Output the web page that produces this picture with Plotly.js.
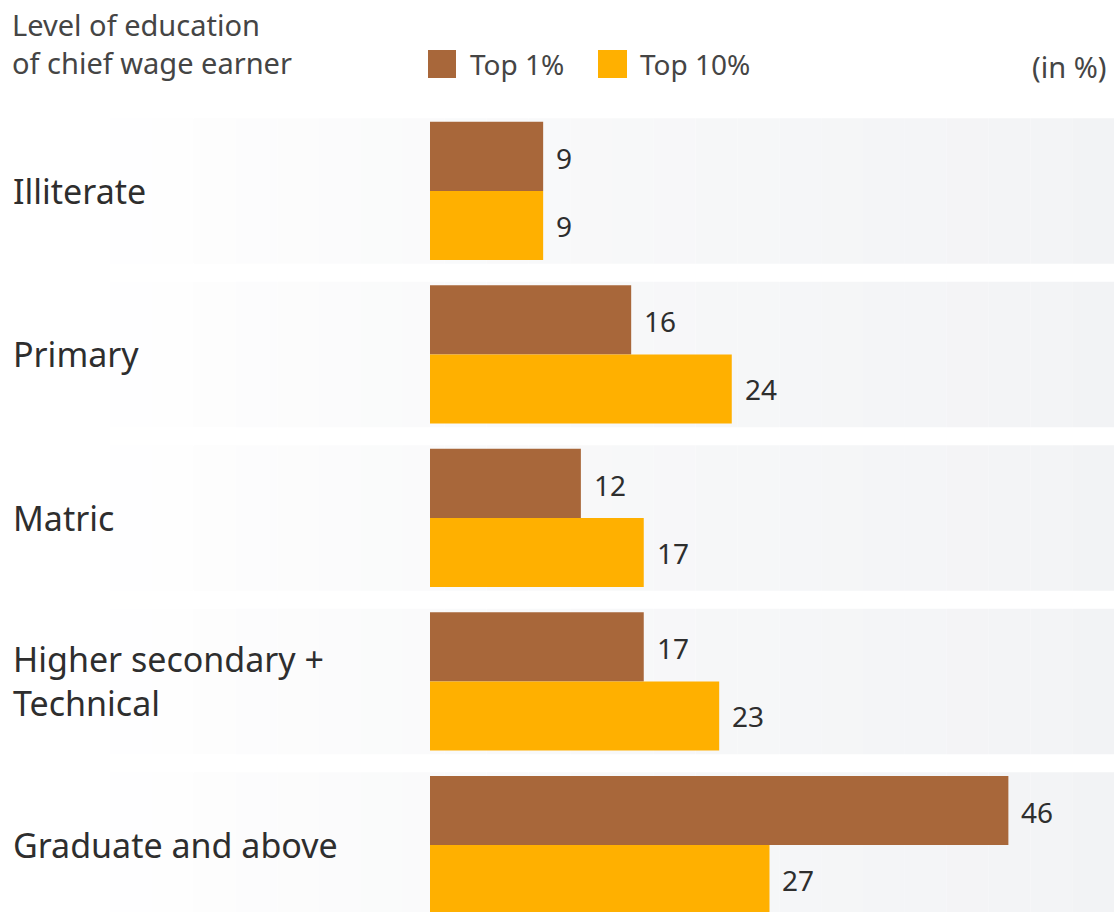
<!DOCTYPE html>
<html>
<head>
<meta charset="utf-8">
<script src="https://cdn.plot.ly/plotly-3.0.1.min.js"></script>
<style>
html,body{margin:0;padding:0;background:#fff;}
#chart{width:1114px;height:912px;}
</style>
</head>
<body>
<div id="chart"></div>
<script>
// ---- data ----
const categories = ["Illiterate", "Primary", "Matric", "Higher secondary +<br>Technical", "Graduate and above"];
const seriesNames = ["Top 1%", "Top 10%"];
const top1 = [9, 16, 12, 17, 46];
const top10 = [9, 24, 17, 23, 27];
const headerText = "Level of education<br>of chief wage earner";
const unitText = "(in %)";

// ---- styles ----
const colors = ["#A8673A", "#FFB000"];
const FONT = "Noto Sans, Open Sans, sans-serif";
const txtColor = "#2e2e2e";
const hdrColor = "#454545";

const PW = 684, PH = 802; // plot width/height in px (margins l=430,t=110)
const px2x = p => (p - 430) / PW;
const py2y = p => (912 - p) / PH;

const traces = [top1, top10].map((vals, k) => ({
  type: "bar",
  orientation: "h",
  name: seriesNames[k],
  x: vals,
  y: categories,
  marker: {color: colors[k], line: {width: 0}},
  hoverinfo: "x+y",
  showlegend: false
}));

const annotations = [];
// category labels
categories.forEach((c, i) => {
  annotations.push({
    xref: "paper", yref: "y", x: px2x(11), y: c,
    text: c, showarrow: false, xanchor: "left", yanchor: "middle", align: "left",
    font: {family: FONT, size: 34, color: txtColor}
  });
});
// value labels
[top1, top10].forEach((vals, k) => {
  vals.forEach((v, i) => {
    annotations.push({
      xref: "x", yref: "y", x: v, y: categories[i],
      text: String(v), showarrow: false, xanchor: "left", yanchor: "middle",
      xshift: 11, yshift: k === 0 ? 33 : -35,
      font: {family: FONT, size: 28, color: txtColor}
    });
  });
});
// header
annotations.push({
  xref: "paper", yref: "paper", x: px2x(10), y: py2y(3),
  text: headerText, showarrow: false, xanchor: "left", yanchor: "top", align: "left",
  font: {family: FONT, size: 29, color: hdrColor}
});
// unit
annotations.push({
  xref: "paper", yref: "paper", x: px2x(1108), y: py2y(66),
  text: unitText, showarrow: false, xanchor: "right", yanchor: "middle",
  font: {family: FONT, size: 29, color: hdrColor}
});
// legend texts
const legX = [468, 638];
seriesNames.forEach((n, k) => {
  annotations.push({
    xref: "paper", yref: "paper", x: px2x(legX[k]), y: py2y(64),
    text: n, showarrow: false, xanchor: "left", yanchor: "middle",
    font: {family: FONT, size: 28, color: hdrColor}
  });
});

const shapes = [];
// gradient background bands
const steps = 24;
const gx0 = 110, gx1 = 1114;
categories.forEach((c, i) => {
  for (let s = 0; s < steps; s++) {
    const t = (s + 0.5) / steps;
    const g0 = [255, 255, 255], g1 = [242, 243, 245];
    const col = g0.map((v, j) => Math.round(v + (g1[j] - v) * Math.pow(t, 0.8)));
    shapes.push({
      type: "rect", layer: "below", xref: "paper", yref: "y",
      x0: px2x(gx0 + (gx1 - gx0) * s / steps),
      x1: px2x(gx0 + (gx1 - gx0) * (s + 1) / steps),
      y0: i - 0.445, y1: i + 0.445,
      line: {width: 0}, fillcolor: `rgb(${col.join(",")})`
    });
  }
});
// legend squares
const legSq = [[428, 456], [598, 627]];
legSq.forEach((r, k) => {
  shapes.push({
    type: "rect", xref: "paper", yref: "paper",
    x0: px2x(r[0]), x1: px2x(r[1]), y0: py2y(78), y1: py2y(50),
    line: {width: 0}, fillcolor: colors[k]
  });
});

const layout = {
  width: 1114, height: 912,
  margin: {l: 430, r: 0, t: 110, b: 0, pad: 0},
  paper_bgcolor: "#ffffff",
  plot_bgcolor: "rgba(0,0,0,0)",
  barmode: "group",
  bargap: 0.155,
  bargroupgap: 0,
  xaxis: {range: [0, 54.4], visible: false, fixedrange: true},
  yaxis: {type: "category", range: [4.41, -0.495], showticklabels: false,
          showgrid: false, zeroline: false, showline: false, ticks: "", fixedrange: true},
  annotations: annotations,
  shapes: shapes,
  showlegend: false,
  font: {family: FONT}
};

Plotly.newPlot("chart", traces, layout, {displayModeBar: false, staticPlot: true});
</script>
</body>
</html>
